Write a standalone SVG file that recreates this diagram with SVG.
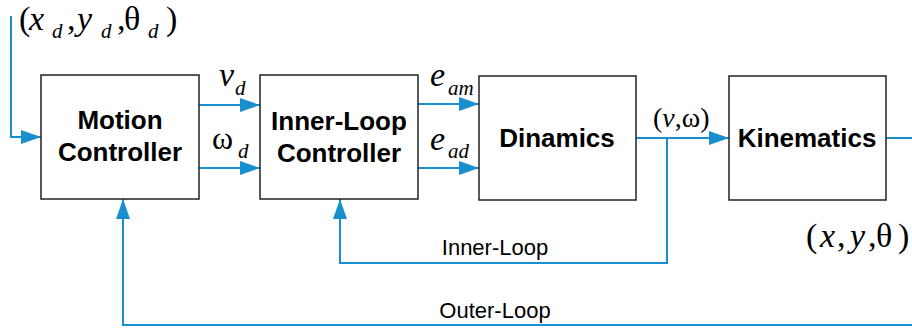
<svg xmlns="http://www.w3.org/2000/svg" width="912" height="331" viewBox="0 0 912 331">
<defs>
<marker id="ah" viewBox="0 0 20 14" refX="20" refY="7" markerWidth="20" markerHeight="14" markerUnits="userSpaceOnUse" orient="auto">
<path d="M0,0 L20,7 L0,14 Z" fill="#1a8fd0"/>
</marker>
<style>
.box{fill:#fff;stroke:#222;stroke-width:1.5}
.lbl{font-family:"Liberation Sans",Arial,sans-serif;font-weight:bold;font-size:26px;fill:#000;text-anchor:middle}
.wire{fill:none;stroke:#1a8fd0;stroke-width:2}
.m{font-family:"Liberation Serif","Times New Roman",serif;fill:#000}
.i{font-style:italic}
.s{font-size:21px;font-style:italic}
.note{font-family:"Liberation Sans",Arial,sans-serif;font-size:22px;fill:#000;text-anchor:middle}
</style>
</defs>
<rect width="912" height="331" fill="#fff"/>
<g id="connectors">
<path class="wire" d="M11,16 V137 H41" marker-end="url(#ah)"/>
<path class="wire" d="M199,105 H260" marker-end="url(#ah)"/>
<path class="wire" d="M199,168 H260" marker-end="url(#ah)"/>
<path class="wire" d="M418,104 H479" marker-end="url(#ah)"/>
<path class="wire" d="M418,168 H479" marker-end="url(#ah)"/>
<path class="wire" d="M636,138 H729" marker-end="url(#ah)"/>
<path class="wire" d="M886,138 H912"/>
<path class="wire" d="M667,138 V263 H340 V199" marker-end="url(#ah)"/>
<path class="wire" d="M912,325 H123 V199" marker-end="url(#ah)"/>
</g>
<g id="motion">
<rect class="box" x="41" y="75" width="158" height="124"/>
<text class="lbl" x="120" y="129">Motion</text>
<text class="lbl" x="120" y="161">Controller</text>
</g>
<g id="inner">
<rect class="box" x="260" y="75" width="158" height="124"/>
<text class="lbl" x="339" y="130">Inner-Loop</text>
<text class="lbl" x="339" y="162">Controller</text>
</g>
<g id="dynamics">
<rect class="box" x="479" y="76" width="157" height="124"/>
<text class="lbl" x="557" y="147">Dinamics</text>
</g>
<g id="kinematics">
<rect class="box" x="729" y="76" width="157" height="124"/>
<text class="lbl" x="807" y="147">Kinematics</text>
</g>
<g id="labels">
<text class="m" font-size="34"><tspan x="19" y="30">(</tspan><tspan class="i" x="29" y="30">x</tspan><tspan class="s" x="52" y="38">d</tspan><tspan x="67" y="30">,</tspan><tspan class="i" x="77" y="30">y</tspan><tspan class="s" x="101" y="38">d</tspan><tspan x="117" y="30">,</tspan><tspan x="124" y="30">θ</tspan><tspan class="s" x="148" y="38">d</tspan><tspan x="166" y="30">)</tspan></text>
<text class="m" font-size="34"><tspan class="i" x="219" y="86">v</tspan><tspan class="s" x="235" y="95">d</tspan></text>
<text class="m" font-size="32"><tspan x="212" y="149">ω</tspan><tspan class="s" x="238" y="158">d</tspan></text>
<text class="m" font-size="34"><tspan class="i" x="430" y="86">e</tspan><tspan class="s" x="448" y="95">am</tspan></text>
<text class="m" font-size="34"><tspan class="i" x="430" y="150">e</tspan><tspan class="s" x="448" y="158">ad</tspan></text>
<text class="m" font-size="28" x="653" y="127">(<tspan class="i">v</tspan>,ω)</text>
<text class="m" font-size="34"><tspan x="806" y="247">(</tspan><tspan class="i" x="820" y="247">x</tspan><tspan x="837" y="247">,</tspan><tspan class="i" x="850" y="247">y</tspan><tspan x="868" y="247">,</tspan><tspan x="876" y="247">θ</tspan><tspan x="898" y="247">)</tspan></text>
<text class="note" x="495" y="255">Inner-Loop</text>
<text class="note" x="495" y="318">Outer-Loop</text>
</g>
</svg>
